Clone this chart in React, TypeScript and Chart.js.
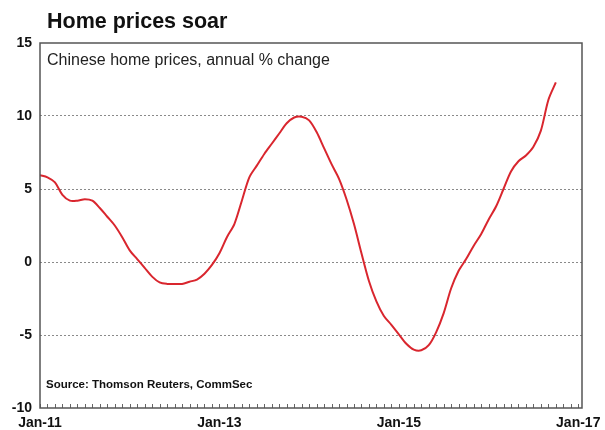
import React, { useEffect, useRef } from "react";
import { Chart, registerables } from "chart.js";

Chart.register(...registerables);

// Month index since Jan-2011 (0 = Jan-11)
const monthIndex: number[] = Array.from({ length: 70 }, (_, i) => i);

// Chinese home prices, annual % change
const priceChange: number[] = [
  5.95, 5.8, 5.45, 4.6, 4.2, 4.2, 4.3, 4.2, 3.7, 3.1,
  2.5, 1.7, 0.8, 0.2, -0.4, -1.0, -1.4, -1.5, -1.5, -1.5,
  -1.35, -1.2, -0.8, -0.2, 0.6, 1.7, 2.6, 4.2, 5.8, 6.6,
  7.4, 8.1, 8.8, 9.5, 9.9, 9.95, 9.7, 8.9, 7.8, 6.7,
  5.7, 4.3, 2.6, 0.6, -1.3, -2.7, -3.7, -4.3, -4.95, -5.6,
  -6.0, -6.05, -5.7, -4.8, -3.5, -1.8, -0.6, 0.2, 1.1, 1.9,
  2.9, 3.8, 5.0, 6.2, 6.9, 7.3, 7.9, 9.0, 11.1, 12.3,
];

const xTickValues: number[] = [0, 24, 48, 72];
const xTickLabels: string[] = ["Jan-11", "Jan-13", "Jan-15", "Jan-17"];
const yTickValues: number[] = [-10, -5, 0, 5, 10, 15];

const titleText = "Home prices soar";
const subtitleText = "Chinese home prices, annual % change";
const sourceText = "Source: Thomson Reuters, CommSec";

const FONT = "'Liberation Sans', Arial, sans-serif";

const decorPlugin = {
  id: "decor",
  beforeDatasetsDraw(chart: any) {
    const { ctx, chartArea } = chart;
    const xs = chart.scales.x;
    ctx.save();
    // monthly minor ticks along bottom, pointing inward
    ctx.strokeStyle = "#666";
    ctx.lineWidth = 1;
    for (let m = 0; m <= 72; m++) {
      const px = Math.round(xs.getPixelForValue(m)) + 0.5;
      ctx.beginPath();
      ctx.moveTo(px, chartArea.bottom);
      ctx.lineTo(px, chartArea.bottom - 4);
      ctx.stroke();
    }
    ctx.restore();
  },
  afterDraw(chart: any) {
    const { ctx, chartArea } = chart;
    ctx.save();
    // frame
    ctx.strokeStyle = "#555";
    ctx.lineWidth = 1.5;
    ctx.strokeRect(
      chartArea.left,
      chartArea.top,
      chartArea.right - chartArea.left,
      chartArea.bottom - chartArea.top
    );
    // title
    ctx.fillStyle = "#111";
    ctx.textBaseline = "middle";
    ctx.textAlign = "left";
    ctx.font = `bold 21.5px ${FONT}`;
    ctx.fillText(titleText, chartArea.left + 7, 22);
    // subtitle
    ctx.fillStyle = "#222";
    ctx.font = `16px ${FONT}`;
    ctx.fillText(subtitleText, chartArea.left + 7, chartArea.top + 18);
    // source
    ctx.font = `bold 11.5px ${FONT}`;
    ctx.fillStyle = "#111";
    ctx.fillText(sourceText, chartArea.left + 6, chartArea.bottom - 23);
    ctx.restore();
  },
};

export default function App() {
  const canvasRef = useRef<HTMLCanvasElement | null>(null);

  useEffect(() => {
    document.body.style.margin = "0";
    const canvas = canvasRef.current;
    if (!canvas) return;
    const chart = new Chart(canvas, {
      type: "line",
      data: {
        datasets: [
          {
            data: monthIndex.map((m, i) => ({ x: m, y: priceChange[i] })),
            borderColor: "#d9262e",
            borderWidth: 2,
            pointRadius: 0,
            tension: 0.3,
            fill: false,
          },
        ],
      },
      options: {
        animation: false,
        responsive: false,
        maintainAspectRatio: false,
        layout: { padding: { left: 0, right: 23, top: 43, bottom: 0 } },
        plugins: {
          legend: { display: false },
          tooltip: { enabled: false },
          title: { display: false },
        },
        scales: {
          x: {
            type: "linear",
            min: 0,
            max: 72.5,
            afterBuildTicks: (scale: any) => {
              scale.ticks = xTickValues.map((v) => ({ value: v }));
            },
            afterFit: (scale: any) => {
              scale.height = 22;
              scale.paddingRight = 0;
              scale.paddingLeft = 0;
            },
            grid: { display: false, drawTicks: false },
            border: { display: false },
            ticks: {
              autoSkip: false,
              maxRotation: 0,
              padding: 7,
              color: "#111",
              font: { family: FONT, size: 14, weight: "bold" },
              callback: (v: any) => {
                const idx = xTickValues.indexOf(Number(v));
                return idx >= 0 ? xTickLabels[idx] : "";
              },
            },
          },
          y: {
            type: "linear",
            min: -10,
            max: 15,
            afterBuildTicks: (scale: any) => {
              scale.ticks = yTickValues.map((v) => ({ value: v }));
            },
            afterFit: (scale: any) => {
              scale.width = 40;
            },
            border: { display: false, dash: [2, 2] },
            grid: {
              drawTicks: false,
              color: (c: any) =>
                c.tick && (c.tick.value === 15 || c.tick.value === -10)
                  ? "rgba(0,0,0,0)"
                  : "#8a8a8a",
              lineWidth: 1,
            },
            ticks: {
              padding: 8,
              color: "#111",
              font: { family: FONT, size: 14, weight: "bold" },
            },
          },
        },
      } as any,
      plugins: [decorPlugin],
    });
    return () => chart.destroy();
  }, []);

  return (
    <div style={{ width: 605, height: 430, background: "#fff" }}>
      <canvas ref={canvasRef} width={605} height={430} style={{ display: "block" }} />
    </div>
  );
}
